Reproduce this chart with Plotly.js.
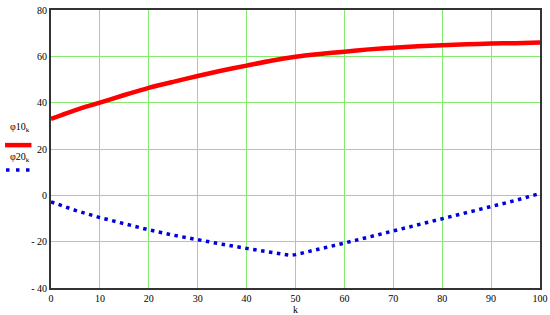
<!DOCTYPE html>
<html><head><meta charset="utf-8">
<script src="https://cdn.plot.ly/plotly-3.0.1.min.js"></script>
<style>html,body{margin:0;padding:0;background:#fff}#chart{width:550px;height:315px}</style>
</head><body><div id="chart"></div>
<script>
const k1 = [0,5,10,15,20,25,30,35,40,45,50,55,60,65,70,75,80,85,90,95,100];
const phi10 = [33,36.8,40,43.3,46.4,49,51.5,53.9,56,58.1,59.8,61,62,63,63.7,64.3,64.8,65.2,65.5,65.7,66];
const k2 = [0,5,10,15,20,25,30,35,40,45,49,50,55,60,65,70,75,80,85,90,95,100];
const phi20 = [-2.8,-6.5,-9.6,-12.4,-14.9,-17.2,-19.3,-21.1,-22.9,-24.5,-25.9,-25.6,-23.2,-20.6,-18,-15.4,-12.8,-10.2,-7.6,-5,-2.2,0.8];
const xTicks = [0,10,20,30,40,50,60,70,80,90,100];
const yTicks = [-40,-20,0,20,40,60,80];
const seriesNames = ['φ10<sub>k</sub>','φ20<sub>k</sub>'];

const font = {family:"'Liberation Serif', 'DejaVu Serif', serif", size:10, color:'#000'};
const gridColor = 'rgb(130,235,110)';

const traces = [
  {x:k1, y:phi10, mode:'lines', line:{color:'#ff0000', width:4.5, shape:'spline', smoothing:0.6}, showlegend:false, hoverinfo:'skip'},
  {x:k2, y:phi20, mode:'lines', line:{color:'#0000dd', width:3.5, dash:'3.5px,4.5px'}, showlegend:false, hoverinfo:'skip'}
];

const layout = {
  width:550, height:315,
  margin:{l:51, r:10, t:10, b:27},
  paper_bgcolor:'#fff', plot_bgcolor:'#fff',
  font:font,
  xaxis:{range:[0,100], tickvals:xTicks, ticktext:xTicks.map(String), showgrid:true, gridcolor:gridColor, gridwidth:1,
    zeroline:false, showline:true, mirror:true, linecolor:'#333', linewidth:2, ticks:'', ticklen:0,
    title:{text:'k', font:font, standoff:1}, tickfont:font, automargin:false},
  yaxis:{range:[-40,80], tickvals:yTicks, ticktext:yTicks.map(v=> v<0 ? '- '+Math.abs(v) : String(v)), showgrid:true, gridcolor:gridColor, gridwidth:1,
    zeroline:false, showline:true, mirror:true, linecolor:'#333', linewidth:2, ticks:'', tickfont:font, automargin:false},
  annotations:[
    {xref:'paper', yref:'paper', x:-0.0634, y:0.579, text:seriesNames[0], showarrow:false, font:font, xanchor:'center', yanchor:'middle'},
    {xref:'paper', yref:'paper', x:-0.0634, y:0.471, text:seriesNames[1], showarrow:false, font:font, xanchor:'center', yanchor:'middle'}
  ],
  shapes:[
    {type:'line', xref:'paper', yref:'paper', x0:-0.094, x1:-0.04, y0:0.514, y1:0.514, line:{color:'#ff0000', width:4.5}},
    {type:'line', xref:'paper', yref:'paper', x0:-0.092, x1:-0.036, y0:0.4245, y1:0.4245, line:{color:'#0000dd', width:3.5, dash:'3.5px,6.5px'}}
  ]
};
Plotly.newPlot('chart', traces, layout, {staticPlot:true, displayModeBar:false});
</script></body></html>
